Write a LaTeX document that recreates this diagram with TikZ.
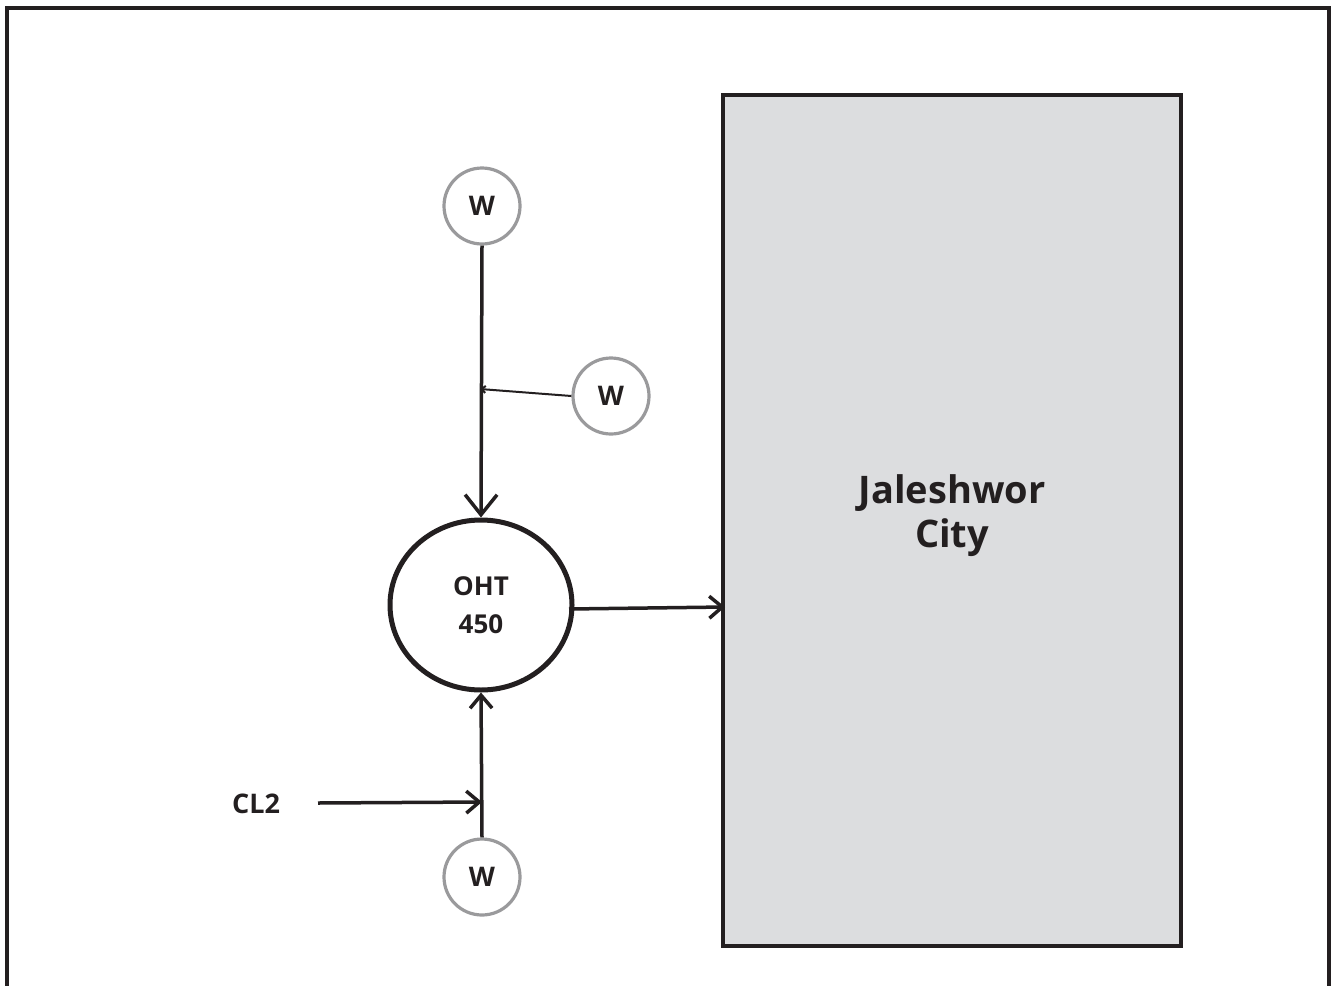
\documentclass[tikz,border=0pt]{standalone}
\usepackage{fontspec}
\setmainfont{Open Sans}
\usetikzlibrary{arrows.meta,shapes.geometric}
\definecolor{ink}{HTML}{231F20}
\definecolor{wellgray}{HTML}{9A9A9C}
\definecolor{cityfill}{HTML}{DCDDDF}
\begin{document}
\begin{tikzpicture}[x=1pt,y=-1pt,
  every node/.style={font=\bfseries, text=ink},
  well/.style={circle, draw=wellgray, line width=3.2pt, fill=white, minimum size=76pt, inner sep=0pt, font=\fontsize{27}{27}\selectfont\bfseries},
  tank/.style={ellipse, draw=ink, line width=5pt, minimum width=182pt, minimum height=170pt, inner sep=0pt, align=center, font=\fontsize{26}{38}\selectfont\bfseries},
  citybox/.style={draw=ink, fill=cityfill, line width=4.5pt, minimum width=458pt, minimum height=851pt, inner sep=0pt},
  bigflow/.style={draw=ink, line width=3.5pt, -{Straight Barb[length=20pt,width=32pt,line width=3.5pt]}},
  flow/.style={draw=ink, line width=3.5pt, -{Straight Barb[length=13pt,width=22pt,line width=3.5pt]}},
  thinflow/.style={draw=ink, line width=2pt, -{Straight Barb[length=4pt,width=7pt,line width=2pt]}}
]
\useasboundingbox (0,0) rectangle (1335,985);
% outer frame, open at the bottom edge
\draw[ink, line width=3.5pt] (7,990) -- (7,8) -- (1329,8) -- (1329,990);

% city block
\node[citybox] (city) at (952,520.5) {};
\node[font=\fontsize{38}{44}\selectfont\bfseries, align=center] (citylabel) at (952,516) {Jaleshwor\\City};

% tank and wells
\node[tank] (oht) at (481,605) {OHT\\450};
\node[well] (w1) at (482,206) {W};
\node[well] (w2) at (611,396) {W};
\node[well] (w3) at (482,877) {W};
\node[font=\fontsize{27}{27}\selectfont\bfseries] (cl) at (256,804) {CL2};

% junction points on the supply lines
\coordinate (j1) at (480,389);
\coordinate (j2) at (482,802);
\coordinate (cityin) at (725,607);

% connectors
\draw[bigflow] (w1.south) -- (oht.north);
\draw[thinflow] (w2.west) -- (j1);
\draw[flow] (w3.north) -- (oht.south);
\draw[flow] (318,803) -- (j2);
\draw[flow] (569,609) -- (cityin);
\end{tikzpicture}
\end{document}
